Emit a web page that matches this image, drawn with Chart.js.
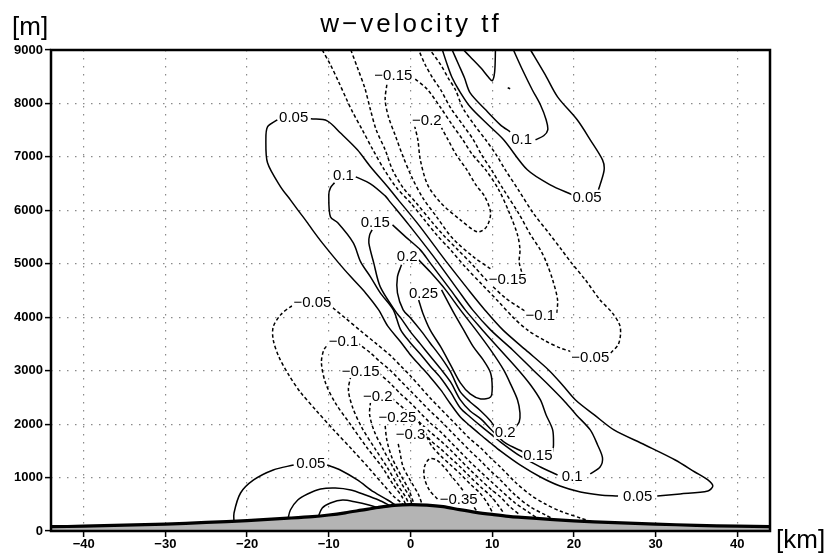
<!DOCTYPE html>
<html><head><meta charset="utf-8">
<script src="https://cdn.jsdelivr.net/npm/chart.js@4.4.1/dist/chart.umd.min.js"></script>
<style>html,body{margin:0;padding:0;background:#fff;}canvas{display:block;}</style>
</head><body>
<canvas id="c" width="828" height="554"></canvas>
<script>
// ---------- axes ----------
const xTicks = [-40,-30,-20,-10,0,10,20,30,40];
const yTicks = [0,1000,2000,3000,4000,5000,6000,7000,8000,9000];

// ---------- terrain (km, m) ----------
const terrainX = [-44,-40,-35,-30,-25,-20,-15,-12,-10,-8,-6,-4,-2,0,2,4,6,8,10,12,15,20,25,30,35,40,44];
const terrainH = [80,90,110,130,160,195,240,270,300,340,390,440,480,495,485,455,400,350,310,275,240,190,155,130,105,90,80];

// ---------- contour lines: [km, m] ----------
// low-level updraft upwind of the ridge
const cA005a = [[-21.6,150],[-21.6,337],[-20.8,711],[-19.2,955],[-16.8,1142],[-14.3,1236]];
const cA005b = [[-10.2,1236],[-8.6,1142],[-6.5,955],[-4.5,730],[-2.8,580],[-1.5,450]];
const cA01   = [[-15.0,225],[-14.7,393],[-13.8,580],[-12.6,693],[-11.0,786],[-9.2,805],[-7.3,768],[-5.5,674],[-3.9,580],[-2.4,468]];
const cA015  = [[-11.3,260],[-10.8,431],[-9.8,524],[-8.3,580],[-6.7,543],[-5.1,487],[-3.9,431]];

// lower downdraft
const cB005L = [[-13.8,4249],[-14.7,4193],[-15.9,4044],[-16.8,3819],[-16.8,3576],[-16.1,3257],[-14.9,2920],[-13.5,2602],[-11.6,2265],[-9.4,1891],[-7.1,1516],[-5.1,1179],[-3.4,880],[-2.1,655],[-1.1,524],[-0.7,460]];
const cB005R = [[-9.5,4175],[-8.0,3987],[-6.1,3744],[-4.3,3519],[-2.4,3276],[-1.2,3089],[0,2902],[1.2,2696],[2.4,2490],[3.7,2284],[4.9,2097],[6.1,1909],[7.3,1722],[8.6,1554],[9.8,1367],[11.0,1198],[12.8,917],[14.7,674],[16.5,505],[18.3,374],[20.8,243],[23.0,131]];
const cB01L  = [[-9.8,3538],[-10.6,3388],[-10.9,3145],[-10.4,2771],[-9.2,2396],[-7.3,1984],[-5.3,1554],[-3.4,1179],[-2.1,861],[-1.1,655],[-0.5,470]];
const cB01R  = [[-6.5,3519],[-4.9,3332],[-3.7,3164],[-2.4,2995],[-1.2,2808],[0,2621],[1.2,2434],[2.4,2246],[3.7,2059],[4.9,1872],[6.1,1685],[7.3,1498],[8.6,1310],[9.8,1123],[11.0,955],[12.8,674],[14.7,449],[16.5,300],[17.7,206]];
const cB015L = [[-7.3,2902],[-7.6,2640],[-7.1,2321],[-6.0,1947],[-4.4,1554],[-2.8,1179],[-1.6,861],[-0.6,636],[-0.1,470]];
const cB015R = [[-3.9,2958],[-2.4,2752],[-1.2,2565],[0,2396],[1.2,2209],[2.4,2022],[3.7,1853],[4.9,1666],[6.1,1479],[7.3,1292],[8.6,1104],[9.8,936],[11.0,768],[12.8,524],[14.4,356],[15.5,243]];
const cB02L  = [[-4.9,2415],[-5.0,2172],[-4.4,1853],[-3.3,1516],[-2.1,1179],[-1.0,861],[-0.1,636],[0.2,470]];
const cB02R  = [[-2.3,2490],[-1.2,2340],[0,2190],[1.2,2022],[2.4,1853],[3.7,1685],[4.9,1516],[6.1,1329],[7.3,1142],[8.6,955],[9.8,786],[11.0,636],[12.2,449],[13.4,300]];
const cB025L = [[-3.1,1966],[-2.9,1704],[-2.3,1385],[-1.2,1048],[-0.2,768],[0.5,470]];
const cB025R = [[1.0,2040],[1.6,1891],[2.4,1704],[3.7,1535],[4.9,1367],[6.1,1198],[7.3,1011],[8.6,824],[9.8,655],[10.8,468],[11.4,337]];
const cB03L  = [[-1.5,1629],[-1.3,1479],[-0.9,1198],[0.1,917],[1.0,674],[1.5,460]];
const cB03R  = [[2.0,1760],[2.6,1591],[3.7,1404],[4.9,1236],[6.1,1067],[7.3,880],[8.6,693],[9.4,524],[10.0,356]];
const cB035  = [[3.3,600],[2.3,768],[1.7,992],[1.7,1198],[2.3,1348],[3.2,1329],[4.2,1179],[5.1,1011],[6.1,824],[7.0,636],[7.6,487],[8.1,374]];

// main tilted updraft band
const cC005a = [[-12.2,7713],[-10.2,7675],[-8.6,7451],[-6.5,7132],[-4.9,6814],[-2.8,6440],[-1.5,6196],[1.0,5728],[3.3,5260],[4.5,5017],[7.1,4512],[9.1,4137],[11.3,3763],[14.1,3388],[16.9,3014],[18.6,2733],[20.2,2452],[22.5,2172],[24.9,1891],[28.7,1610],[32.4,1329],[34.8,1104],[36.4,955],[37.0,842],[36.4,749],[33.0,693],[30.2,655]];
const cC005b = [[25.4,655],[23.2,674],[20.8,730],[18.3,842],[15.9,1011],[13.4,1236],[11.0,1498],[9.8,1647],[8.6,1797],[7.3,1966],[6.1,2134],[4.9,2377],[3.7,2640],[2.4,2883],[1.2,3089],[0,3295],[-1.2,3538],[-2.8,3838],[-3.9,4137],[-5.5,4455],[-7.3,4755],[-8.8,5017],[-10.8,5391],[-12.0,5635],[-12.6,5766],[-13.8,6009],[-14.7,6196],[-15.9,6440],[-17.5,6889],[-17.7,7320],[-17.5,7563],[-16.3,7694]];
const cC01a  = [[-6.7,6627],[-4.9,6496],[-3.1,6271],[-2.7,6196],[-0.2,5728],[2.2,5260],[3.4,5017],[5.8,4512],[7.6,4137],[9.8,3763],[12.5,3388],[15.0,3014],[16.9,2733],[18.7,2452],[20.3,2172],[22.0,1891],[22.9,1610],[23.5,1367],[23.2,1198],[22.0,1067]];
const cC01b  = [[18.0,1048],[15.9,1198],[13.4,1404],[11.0,1666],[9.8,1816],[8.6,1966],[7.3,2134],[6.1,2302],[4.9,2602],[3.7,2864],[2.4,3089],[1.2,3313],[0,3519],[-1.2,3763],[-2.1,4137],[-3.7,4455],[-4.9,4755],[-6.1,5036],[-7.0,5391],[-8.9,5766],[-9.8,5878],[-10.0,6290],[-9.8,6421],[-9.3,6515]];
const cC015a = [[-2.2,5728],[-0.6,5504],[1.2,5260],[2.4,5017],[4.9,4512],[6.7,4137],[8.8,3763],[11.0,3388],[13.2,3014],[14.7,2733],[15.9,2452],[16.6,2172],[17.4,1891],[17.5,1610],[17.4,1479]];
const cC015b = [[13.8,1479],[11.6,1647],[9.8,1910],[8.6,2097],[7.3,2246],[6.1,2452],[4.9,2789],[3.7,3033],[2.4,3276],[1.2,3501],[0,3725],[-1.2,3987],[-1.7,4081],[-3.7,4568],[-4.5,5017],[-5.1,5391],[-5.0,5541],[-4.7,5635]];
const cC02a  = [[1.0,5073],[2.4,4849],[4.3,4512],[6.1,4137],[8.0,3763],[9.8,3388],[11.4,3014],[12.3,2733],[13.1,2452],[13.4,2209],[13.3,2040],[12.8,1928]];
const cC02b  = [[10.4,1928],[9.8,2059],[8.6,2246],[7.3,2415],[6.1,2602],[4.9,2976],[3.7,3257],[2.4,3519],[1.2,3763],[0,3987],[-0.9,4137],[-1.6,4455],[-1.6,4755],[-1.1,4980]];
const cC025  = [[3.8,4512],[5.3,4081],[6.5,3763],[7.7,3444],[8.9,3201],[9.8,2958],[10.0,2677],[9.8,2508],[8.6,2471],[7.3,2565],[6.1,2771],[4.9,3108],[3.7,3444],[2.4,3763],[1.5,4081],[1.0,4324]];

// upper downdraft
const cD005a = [[-10.8,9000],[-9.8,8724],[-8.8,8405],[-7.8,8068],[-7.1,7844],[-5.9,7507],[-4.6,7132],[-3.2,6758],[-1.7,6421],[0,6140],[1.7,5822],[3.2,5541],[4.9,5260],[6.7,4942],[8.8,4605],[10.8,4287],[12.5,4006],[14.3,3763],[16.5,3557],[18.3,3426],[19.8,3351]];
const cD005b = [[24.5,3332],[25.4,3482],[25.7,3669],[25.6,3856],[24.7,4081],[23.2,4324],[21.4,4699],[19.6,5036],[18.5,5260],[17.1,5541],[15.0,5953],[13.2,6384],[11.6,6758],[10.5,7039],[9.2,7320],[7.8,7600],[6.4,7919],[5.5,8256],[4.6,8480],[3.7,8724],[2.4,9000]];
const cD01a  = [[-7.3,9000],[-6.4,8630],[-5.6,8293],[-4.9,7881],[-4.2,7507],[-3.1,7132],[-2.2,6758],[-0.9,6421],[0.7,6140],[2.4,5822],[4.0,5541],[5.8,5260],[7.6,4980],[9.5,4661],[11.6,4362],[13.4,4175],[14.2,4100]];
const cD01b  = [[17.9,4081],[18.0,4324],[17.4,4699],[16.6,5036],[15.9,5260],[14.7,5541],[13.2,5953],[11.4,6384],[9.9,6758],[8.7,7039],[7.7,7320],[6.4,7600],[4.9,7919],[3.7,8256],[2.7,8480],[1.8,8724],[1.0,9000]];
const cD015a = [[-2.9,8349],[-3.1,8068],[-2.7,7750],[-1.8,7376],[-0.9,7001],[0.2,6608],[1.5,6234],[3.2,5878],[5.1,5485],[7.7,5129],[9.8,4905]];
const cD015b = [[13.6,4849],[13.3,5036],[13.4,5260],[13.1,5541],[12.1,5953],[10.8,6384],[9.2,6758],[7.6,7039],[6.4,7320],[5.1,7600],[3.7,7919],[2.1,8256],[0.4,8480]];
const cD02   = [[0.5,7582],[0.9,7320],[1.2,6945],[2.1,6477],[3.7,6140],[6.1,5822],[8.2,5597],[9.3,5691],[9.8,5953],[9.1,6253],[8.0,6477],[6.9,6758],[5.6,7039],[4.6,7320],[3.8,7544]];

// upper-right updraft
const cE005a = [[14.7,9000],[16.5,8536],[18.0,8124],[20.4,7694],[22.0,7320],[23.5,6945],[23.7,6758],[23.2,6477],[23.0,6384]];
const cE005b = [[19.8,6290],[17.1,6477],[14.3,6758],[11.4,7320],[9.5,7600],[7.3,7937],[5.9,8256],[5.1,8480],[4.5,8724],[3.9,9000]];
const cE01a  = [[12.6,9000],[13.7,8630],[14.9,8256],[15.9,7975],[16.6,7694],[16.8,7507],[16.3,7395],[15.3,7320]];
const cE01b  = [[12.2,7469],[11.0,7600],[9.2,7881],[7.3,8199],[6.6,8480],[5.9,8724],[5.1,9000]];
const cE015  = [[6.5,9000],[7.3,8873],[8.6,8667],[9.5,8499],[10.0,8424],[10.3,8592],[10.4,9000]];
const cE02   = [[11.9,8293],[12.2,8274]];

// ---------- contour labels ----------
const labelText = ["0.05","0.1","0.15","0.2","0.25","0.2","0.15","0.1","0.05",
  "\u22120.05","\u22120.1","\u22120.15","\u22120.2","\u22120.25","\u22120.3","\u22120.35","0.05",
  "\u22120.15","\u22120.2","\u22120.15","\u22120.1","\u22120.05","0.1","0.05"];
const labelX = [-14.3,-8.2,-4.3,-0.4,1.6,11.6,15.6,19.8,27.8,
  -12.0,-8.2,-6.1,-4.0,-1.6,0,5.9,-12.2,
  -2.1,2.0,11.9,15.9,22.0,13.6,21.6];
const labelY = [7750,6664,5784,5148,4455,1853,1423,1030,655,
  4287,3557,2995,2527,2134,1816,600,1273,
  8536,7694,4718,4044,3257,7338,6253];

// contour segments with their levels
const segments = [
  [cA005a,0.05],[cA005b,0.05],[cA01,0.1],[cA015,0.15],
  [cB005L,-0.05],[cB005R,-0.05],[cB01L,-0.1],[cB01R,-0.1],[cB015L,-0.15],[cB015R,-0.15],
  [cB02L,-0.2],[cB02R,-0.2],[cB025L,-0.25],[cB025R,-0.25],[cB03L,-0.3],[cB03R,-0.3],[cB035,-0.35],
  [cC005a,0.05],[cC005b,0.05],[cC01a,0.1],[cC01b,0.1],[cC015a,0.15],[cC015b,0.15],[cC02a,0.2],[cC02b,0.2],[cC025,0.25],
  [cD005a,-0.05],[cD005b,-0.05],[cD01a,-0.1],[cD01b,-0.1],[cD015a,-0.15],[cD015b,-0.15],[cD02,-0.2],
  [cE005a,0.05],[cE005b,0.05],[cE01a,0.1],[cE01b,0.1],[cE015,0.15],[cE02,0.2]
];

const FONT = "'Liberation Sans', Arial, Helvetica, sans-serif";

const datasets = segments.map(([pts, lev]) => ({
  data: pts.map(p => ({x: p[0], y: p[1]})),
  borderColor: '#000',
  borderWidth: 1.5,
  borderDash: lev < 0 ? [3.5, 2.5] : [],
  pointRadius: 0,
  tension: 0.3,
  fill: false,
  order: 2
}));
const terrainIndex = datasets.length;
datasets.push({
  data: terrainX.map((x, i) => ({x: x, y: terrainH[i]})),
  borderColor: '#000',
  borderWidth: 3.2,
  backgroundColor: '#b4b4b4',
  fill: 'origin',
  pointRadius: 0,
  tension: 0.3,
  order: 0
});

function drawLabels(chart) {
  const ctx = chart.ctx, xs = chart.scales.x, ys = chart.scales.y;
  ctx.save();
  ctx.font = '15px ' + FONT;
  ctx.textAlign = 'center';
  ctx.textBaseline = 'middle';
  for (let i = 0; i < labelText.length; i++) {
    const px = xs.getPixelForValue(labelX[i]);
    const py = ys.getPixelForValue(labelY[i]);
    const w = ctx.measureText(labelText[i]).width;
    ctx.fillStyle = '#fff';
    ctx.fillRect(px - w / 2 - 1, py - 7, w + 2, 14);
    ctx.fillStyle = '#000';
    ctx.fillText(labelText[i], px, py + 1);
  }
  ctx.restore();
}

const labelPlugin = {
  id: 'contourLabels',
  beforeDatasetDraw(chart, args) {
    if (args.index === terrainIndex) drawLabels(chart);
  },
  afterDraw(chart) {
    const ctx = chart.ctx, a = chart.chartArea;
    ctx.save();
    ctx.strokeStyle = '#000';
    ctx.lineWidth = 2.5;
    ctx.strokeRect(a.left, a.top, a.right - a.left, a.bottom - a.top);
    ctx.fillStyle = '#000';
    ctx.textBaseline = 'middle';
    ctx.font = '26px ' + FONT;
    ctx.textAlign = 'left';
    ctx.fillText('[m]', 12, 28);
    ctx.fillText('[km]', 776, 541);
    ctx.textAlign = 'center';
    try { ctx.letterSpacing = '3px'; } catch (e) {}
    ctx.fillText('w\u2212velocity tf', 411, 25);
    ctx.restore();
  }
};

const tickFont = {family: FONT, size: 13, weight: 'bold'};
const fmt = v => String(v).replace('-', '\u2212');

new Chart(document.getElementById('c'), {
  type: 'line',
  data: {datasets: datasets},
  plugins: [labelPlugin],
  options: {
    responsive: false,
    animation: false,
    devicePixelRatio: 1,
    layout: {padding: {top: 50, right: 58, left: 0, bottom: 0}},
    plugins: {legend: {display: false}, tooltip: {enabled: false}, title: {display: false}},
    scales: {
      x: {
        type: 'linear', min: -44, max: 44,
        afterBuildTicks: s => { s.ticks = xTicks.map(v => ({value: v})); },
        afterFit: s => { s.height = 23; },
        ticks: {font: tickFont, color: '#000', padding: 0, maxRotation: 0, autoSkip: false, callback: fmt},
        grid: {color: '#8a8a8a', lineWidth: 1.2, tickLength: 6, tickColor: '#000', tickWidth: 1.5, drawTicks: true},
        border: {display: false, dash: [1.5, 6.5]}
      },
      y: {
        type: 'linear', min: 0, max: 9000,
        afterBuildTicks: s => { s.ticks = yTicks.map(v => ({value: v})); },
        afterFit: s => { s.width = 51; },
        ticks: {font: tickFont, color: '#000', padding: 2, autoSkip: false, callback: fmt},
        grid: {color: '#8a8a8a', lineWidth: 1.2, tickLength: 6, tickColor: '#000', tickWidth: 1.5, drawTicks: true},
        border: {display: false, dash: [1.5, 6.5]}
      }
    }
  }
});
</script>
</body></html>
